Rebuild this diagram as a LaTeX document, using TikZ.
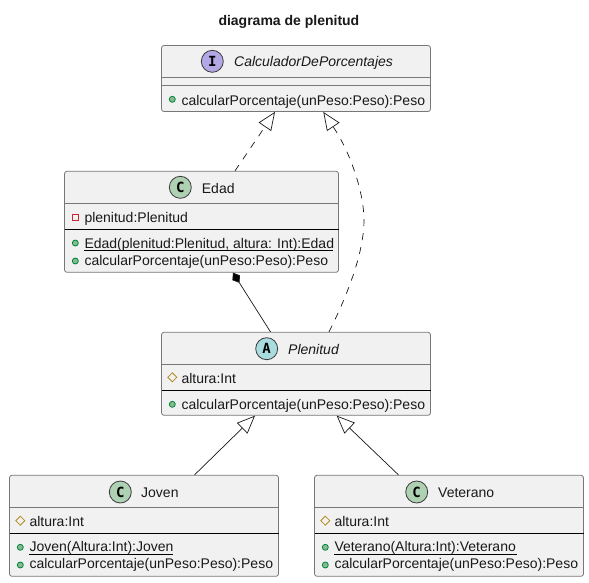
\documentclass[tikz,border=0pt]{standalone}
\usepackage{fontspec}
\setmainfont{Liberation Sans}
\newfontfamily\badgefont{DejaVu Sans Mono}
\usetikzlibrary{arrows.meta}
\definecolor{boxfill}{HTML}{F1F1F1}
\definecolor{boxline}{HTML}{181818}
\definecolor{boxgray}{HTML}{777777}
\definecolor{classbadge}{HTML}{ADD1B2}
\definecolor{ifacebadge}{HTML}{B4A7E5}
\definecolor{absbadge}{HTML}{A9DCDF}
\definecolor{pubfill}{HTML}{84BE84}
\definecolor{publine}{HTML}{038048}
\definecolor{privline}{HTML}{C82930}
\definecolor{protline}{HTML}{B38D22}
\tikzset{
  x=1pt,y=-1pt,
  umlbox/.style={draw=boxgray,line width=.8pt,fill=boxfill,rounded corners=2.5pt,inner sep=0,minimum width=269pt},
  sep/.style={draw=boxgray,line width=.8pt},
  sepdark/.style={draw=black,line width=.8pt},
  txt/.style={inner sep=0,anchor=base west,font=\fontsize{14}{16}\selectfont,text=black!90},
  itxt/.style={txt,font=\fontsize{14}{16}\selectfont\itshape},
  ttl/.style={txt,font=\fontsize{14}{16}\selectfont\bfseries},
  badge/.style={circle,draw=boxline!85,line width=.8pt,minimum size=22pt,inner sep=0,font=\badgefont\bfseries\fontsize{14}{14}\selectfont},
  pub/.style={draw=publine,fill=pubfill,line width=.8pt},
  priv/.style={draw=privline,line width=.8pt},
  prot/.style={draw=protline,line width=.8pt},
  edge/.style={draw=boxline,line width=.7pt},
  realize/.style={edge,dash pattern=on 7pt off 7pt,-{Triangle[open,length=18pt,width=15pt,line width=.7pt]}},
  inherit/.style={edge,-{Triangle[open,length=18pt,width=15pt,line width=.7pt]}},
  compose/.style={edge,{Diamond[length=12pt,width=9pt,fill=black]}-},
}
\newcommand\pubdot[2]{\path[pub] (#1,#2) circle (3pt);}
\newcommand\protmark[2]{\path[prot] (#1,#2-4.5) -- (#1+4.5,#2) -- (#1,#2+4.5) -- (#1-4.5,#2) -- cycle;}
\begin{document}
\begin{tikzpicture}
\useasboundingbox[fill=white] (0,0) rectangle (589,582);
\node[ttl] (title) at (218.3,25) {diagrama de plenitud};

% CalculadorDePorcentajes
\node[umlbox,minimum height=66pt] (calc) at (296,78.5) {};
\draw[sep] (161.5,77.5) -- (430.5,77.5);
\draw[sep] (161.5,85.5) -- (430.5,85.5);
\node[badge,fill=ifacebadge] (calcb) at (212.3,61.3) {I};
\node[itxt] (calcn) at (234,66.7) {CalculadorDePorcentajes};
\pubdot{172.3}{99.3}
\node[txt] (calcm) at (181.3,105) {calcularPorcentaje(unPeso:Peso):Peso};

% Edad
\node[umlbox,minimum width=274pt,minimum height=101pt] (edad) at (201.5,221.8) {};
\draw[sep] (64.5,203.5) -- (338.5,203.5);
\draw[sepdark] (64.5,229.5) -- (338.5,229.5);
\node[badge,fill=classbadge] (edadb) at (180.3,187.3) {C};
\node[txt] (edadn) at (201.7,193) {Edad};
\path[priv] (72.3,214.3) rectangle (78.3,220.3);
\node[txt] (edadf) at (84.3,222.3) {plenitud:Plenitud};
\pubdot{75.3}{243}
\node[txt] (edadc) at (84.3,248) {Edad(plenitud:Plenitud, altura: Int):Edad};
\draw[line width=.8pt] (84.3,250.5) -- (332.7,250.5);
\pubdot{75.3}{261}
\node[txt] (edadm) at (84.3,265) {calcularPorcentaje(unPeso:Peso):Peso};

% Plenitud
\node[umlbox,minimum height=83pt] (plen) at (296,373.8) {};
\draw[sep] (161.5,364.5) -- (430.5,364.5);
\draw[sepdark] (161.5,390.5) -- (430.5,390.5);
\node[badge,fill=absbadge] (plenb) at (266.7,348.7) {A};
\node[itxt] (plenn) at (288,354) {Plenitud};
\protmark{172.3}{377.3}
\node[txt] (plenf) at (181.3,383.3) {altura:Int};
\pubdot{172.3}{404.3}
\node[txt] (plenm) at (181.3,409) {calcularPorcentaje(unPeso:Peso):Peso};

% Joven
\node[umlbox,minimum height=101pt] (joven) at (144,525.8) {};
\draw[sep] (9.5,507.5) -- (278.5,507.5);
\draw[sepdark] (9.5,533.5) -- (278.5,533.5);
\node[badge,fill=classbadge] (jovenb) at (120.3,492) {C};
\node[txt] (jovenn) at (141,497) {Joven};
\protmark{20.3}{520.7}
\node[txt] (jovenf) at (29.3,526.3) {altura:Int};
\pubdot{20.3}{547.3}
\node[txt] (jovenc) at (29.3,551.7) {Joven(Altura:Int):Joven};
\draw[line width=.8pt] (29.3,554) -- (172.7,554);
\pubdot{20.3}{565}
\node[txt] (jovenm) at (29.3,568.7) {calcularPorcentaje(unPeso:Peso):Peso};

% Veterano
\node[umlbox,minimum height=101pt] (vet) at (449,525.8) {};
\draw[sep] (314.5,507.5) -- (583.5,507.5);
\draw[sepdark] (314.5,533.5) -- (583.5,533.5);
\node[badge,fill=classbadge] (vetb) at (416.7,492) {C};
\node[txt] (vetn) at (438,497) {Veterano};
\protmark{325.3}{520.7}
\node[txt] (vetf) at (334.3,526.3) {altura:Int};
\pubdot{325.3}{547.3}
\node[txt] (vetc) at (334.3,551.7) {Veterano(Altura:Int):Veterano};
\draw[line width=.8pt] (334.3,554) -- (516.7,554);
\pubdot{325.3}{565}
\node[txt] (vetm) at (334.3,568.7) {calcularPorcentaje(unPeso:Peso):Peso};

% Connectors
\draw[realize] ([xshift=33.5pt]edad.north) -- ([xshift=-21pt]calc.south);
\draw[realize] ([xshift=33pt]plen.north)
  .. controls (350,290) and (364,250) .. (364,220)
  .. controls (364,195) and (352,155) .. ([xshift=27.3pt]calc.south);
\draw[compose] ([xshift=31.5pt]edad.south) -- ([xshift=-25.5pt]plen.north);
\draw[inherit] ([xshift=50.5pt]joven.north) -- ([xshift=-41pt]plen.south);
\draw[inherit] ([xshift=-50.5pt]vet.north) -- ([xshift=40.7pt]plen.south);
\end{tikzpicture}
\end{document}
